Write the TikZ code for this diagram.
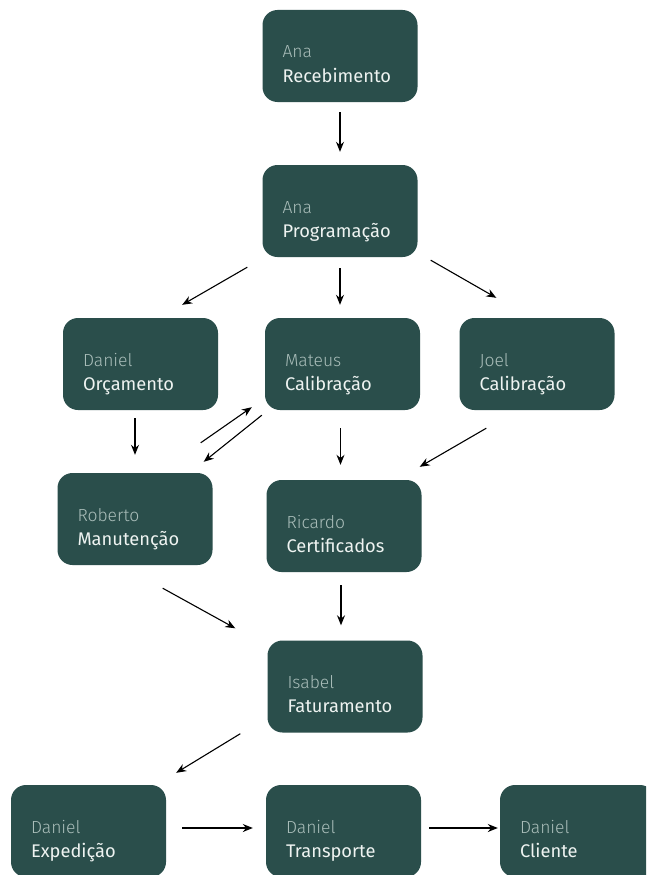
\documentclass[tikz,border=0pt]{standalone}
\usepackage{fontspec}
\setmainfont{Fira Sans}
\newfontfamily\personfont{Fira Sans Light}
\usetikzlibrary{arrows.meta,calc}
\definecolor{cardfill}{HTML}{2A4E4B}
\definecolor{persongrey}{HTML}{A9BDB9}
\definecolor{roletext}{HTML}{EEF3F1}
\tikzset{
  card/.style={draw=none, fill=cardfill, rounded corners=15pt,
    minimum width=155pt, minimum height=92pt, inner sep=0pt},
  person/.style={anchor=base west, inner sep=0pt, text=persongrey,
    font=\personfont\fontsize{17.5}{20}\selectfont},
  role/.style={anchor=base west, inner sep=0pt, text=roletext,
    font=\fontsize{18.3}{20}\selectfont},
  flow/.style={draw=black, line width=1.1pt, -{Stealth[length=10pt,width=8pt]}},
}
% one card: box, person on the first line, task on the second
\newcommand\card[4]{%
  \node[card] (#1) at (#2) {};
  \node[person] (#1-who) at ([xshift=20pt,yshift=-2pt]#1.west) {#3};
  \node[role] (#1-task) at ([xshift=20pt,yshift=-26pt]#1.west) {#4};
}
\begin{document}
\begin{tikzpicture}[x=1pt,y=-1pt]
\clip (0,0) rectangle (646,875);
\fill[white] (0,0) rectangle (646,875);

\card{rec}{340,56}{Ana}{Recebimento}
\card{prog}{340,211}{Ana}{Programação}
\card{orc}{140.5,364}{Daniel}{Orçamento}
\card{mat}{342.5,364}{Mateus}{Calibração}
\card{joel}{537,364}{Joel}{Calibração}
\card{rob}{135,519}{Roberto}{Manutenção}
\card{ric}{344,526}{Ricardo}{Certificados}
\card{isa}{345,686.5}{Isabel}{Faturamento}
\card{exp}{88.5,831}{Daniel}{Expedição}
\card{tra}{343.5,831}{Daniel}{Transporte}
\card{cli}{577.5,831}{Daniel}{Cliente}

% connectors
\draw[flow, shorten <=10pt, shorten >=13pt] (rec.south) -- (prog.north);
\draw[flow] ($(prog.south west)+(-15,10)$) -- ($(orc.north east)+(-36,-13)$);
\draw[flow, shorten <=11pt, shorten >=13pt] (prog.south) -- (prog.south |- mat.north);
\draw[flow] ($(prog.south east)+(13,3)$) -- ($(joel.north west)+(37,-20)$);
\draw[flow, shorten <=8pt, shorten >=18pt] (rob.north |- orc.south) -- (rob.north);
\draw[flow] ($(rob.north east)+(-12,-30)$) -- ($(mat.south west)+(-13,-3)$);
\draw[flow] ($(mat.south west)+(-3,5)$) -- ($(rob.north east)+(-9,-11)$);
\draw[flow, shorten <=18pt, shorten >=15pt] ([xshift=-2pt]mat.south) -- ([xshift=-2pt]mat.south |- ric.north);
\draw[flow] ($(joel.south west)+(27,18)$) -- ($(ric.north east)+(-2,-13)$);
\draw[flow] ($(rob.south east)+(-50,23)$) -- ($(isa.north west)+(-32,-12)$);
\draw[flow, shorten <=13pt, shorten >=15pt] ([xshift=-3pt]ric.south) -- ([xshift=-3pt]ric.south |- isa.north);
\draw[flow] ($(isa.south west)+(-27,1)$) -- ($(exp.north east)+(10,-12)$);
\draw[flow, shorten <=16pt, shorten >=13pt] ([yshift=3pt]exp.east) -- ([yshift=3pt]exp.east -| tra.west);
\draw[flow, shorten <=8pt, shorten >=2pt] ([yshift=3pt]tra.east) -- ([yshift=3pt]tra.east -| cli.west);
\end{tikzpicture}
\end{document}
